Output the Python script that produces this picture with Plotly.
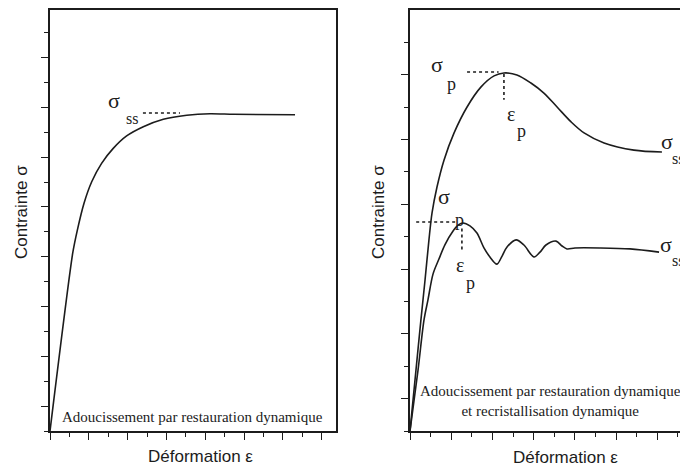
import plotly.graph_objects as go

W, H = 688, 468
OFF = 8  # page body margin of the browser

# ---------------- data (in tick units) ----------------
# Left panel: dynamic recovery only
left_strain = [0, 1.17, 1.41, 1.75, 2.15, 2.66, 3.26, 3.95, 4.81, 5.84, 7.05, 8.25, 9.45, 12.63]
left_stress = [0, 7.14, 8.07, 9.14, 10.01, 10.75, 11.35, 11.85, 12.22, 12.52, 12.68, 12.74, 12.72, 12.70]

# Right panel: upper curve (single peak)
r1_strain = [0, 0.29, 0.53, 0.73, 0.92, 1.07, 1.31, 1.65, 2.14, 2.77, 3.45, 4.08, 4.56,
             5.19, 5.87, 6.50, 7.14, 7.82, 8.45, 9.42, 10.87, 12.23]
r1_stress = [0, 1.88, 3.43, 4.66, 5.90, 6.73, 7.53, 8.36, 9.20, 10.00, 10.62, 10.96, 11.05,
             10.99, 10.74, 10.43, 10.00, 9.54, 9.20, 8.89, 8.67, 8.61]

# Right panel: lower curve (oscillating)
r2_strain = [0, 0.39, 0.68, 0.87, 1.12, 1.40, 1.70, 2.09, 2.35, 2.57, 2.91, 3.25, 3.59, 3.88, 4.22,
             4.47, 4.71, 5.15, 5.53, 6.02, 6.31, 6.60, 7.09, 7.38, 7.62, 8.01, 9.22, 10.68, 12.09]
r2_stress = [0, 1.88, 3.43, 4.04, 4.85, 5.30, 5.75, 6.17, 6.36, 6.42, 6.33, 6.11, 5.65, 5.37, 5.15,
             5.40, 5.68, 5.90, 5.74, 5.37, 5.52, 5.74, 5.86, 5.71, 5.62, 5.65, 5.65, 5.62, 5.52]

# dotted guide lines
left_ss_x = [4.79, 6.70]
left_ss_y = [12.77, 12.77]
r1_peak_hx = [2.77, 4.30]
r1_peak_hy = [11.08, 11.08]
r1_peak_vx = [4.56, 4.56]
r1_peak_vy = [11.02, 10.22]
r2_peak_hx = [0.30, 2.20]
r2_peak_hy = [6.45, 6.45]
r2_peak_vx = [2.52, 2.52]
r2_peak_vy = [6.25, 5.56]

x_title = "Déformation ε"
y_title = "Contrainte σ"
left_note = "Adoucissement par restauration dynamique"
right_note = "Adoucissement par restauration dynamique<br>et recristallisation dynamique"

INK = "#1c1c1c"
SERIF = "Liberation Serif, Times New Roman, serif"
SANS = "Liberation Sans, Arial, sans-serif"

fig = go.Figure()

def curve(x, y, xa, ya, dash="solid", width=1.6, smooth=0.7):
    fig.add_trace(go.Scatter(
        x=x, y=y, xaxis=xa, yaxis=ya, mode="lines",
        line=dict(color=INK, width=width, dash=dash,
                  shape="spline" if dash == "solid" else "linear",
                  smoothing=smooth),
        hoverinfo="skip", showlegend=False))

curve(left_strain, left_stress, "x", "y")
curve(left_ss_x, left_ss_y, "x", "y", dash="dot", width=1.6)

curve(r1_strain, r1_stress, "x2", "y2", smooth=0.9)
curve(r2_strain, r2_stress, "x2", "y2", smooth=0.9)
curve(r1_peak_hx, r1_peak_hy, "x2", "y2", dash="dot", width=1.6)
curve(r1_peak_vx, r1_peak_vy, "x2", "y2", dash="dot", width=1.6)
curve(r2_peak_hx, r2_peak_hy, "x2", "y2", dash="dot", width=1.6)
curve(r2_peak_vx, r2_peak_vy, "x2", "y2", dash="dot", width=1.6)

def fx(x):
    return (x - OFF) / W

def fy(y):
    return 1 - (y - OFF) / H

ydom = [fy(431), fy(10)]

def axis_common(extra):
    d = dict(showgrid=False, zeroline=False, showticklabels=False,
             showline=True, linecolor=INK, linewidth=1.8,
             ticks="outside", ticklen=7, tickwidth=1.4, tickcolor=INK,
             tickmode="linear", dtick=2,
             minor=dict(ticks="outside", ticklen=4, tickwidth=1.4,
                        tickcolor=INK, dtick=1, tick0=0),
             fixedrange=True)
    d.update(extra)
    return d

fig.update_layout(
    width=W, height=H,
    margin=dict(l=0, r=0, t=0, b=0),
    paper_bgcolor="white", plot_bgcolor="white",
    xaxis=axis_common(dict(domain=[fx(50), fx(336)], range=[0, 286 / 19.4],
                           tick0=0, mirror=True, anchor="y")),
    yaxis=axis_common(dict(domain=ydom, range=[0, 421 / 24.9],
                           tick0=1, mirror=True, anchor="x")),
    xaxis2=axis_common(dict(domain=[fx(410), fx(688)], range=[0, 278 / 20.6],
                            tick0=0, mirror=True, anchor="y2")),
    yaxis2=axis_common(dict(domain=ydom, range=[0, 421 / 32.4],
                            tick0=1, mirror=False, anchor="x2")),
)

anns = []

def text(t, x, y, size, family=SERIF, angle=0):
    anns.append(dict(text=t, x=fx(x), y=fy(y), xref="paper", yref="paper",
                     showarrow=False, xanchor="center", yanchor="middle",
                     textangle=angle, align="center",
                     font=dict(family=family, size=size, color=INK)))

# axis titles
text(x_title, 200, 456, 17, SANS)
text(x_title, 565, 457, 17, SANS)
text(y_title, 21, 212, 17, SANS, angle=-90)
text(y_title, 378, 212, 17, SANS, angle=-90)

# notes
text(left_note, 193, 417, 15)
text(right_note, 550, 401, 15)

# symbols - left
text("σ", 114, 101, 22)
text("ss", 132, 118, 16)
# symbols - right upper
text("σ", 437, 64, 22)
text("p", 451, 84, 18)
text("ε", 511, 114, 20)
text("p", 521, 131, 18)
text("σ", 667, 141, 22)
text("ss", 678, 158, 16)
# symbols - right lower
text("σ", 444, 196, 22)
text("p", 459, 220, 18)
text("ε", 460, 265, 20)
text("p", 470, 283, 18)
text("σ", 666, 244, 22)
text("ss", 678, 260, 16)

fig.update_layout(annotations=anns)

fig.write_html("out.html")
